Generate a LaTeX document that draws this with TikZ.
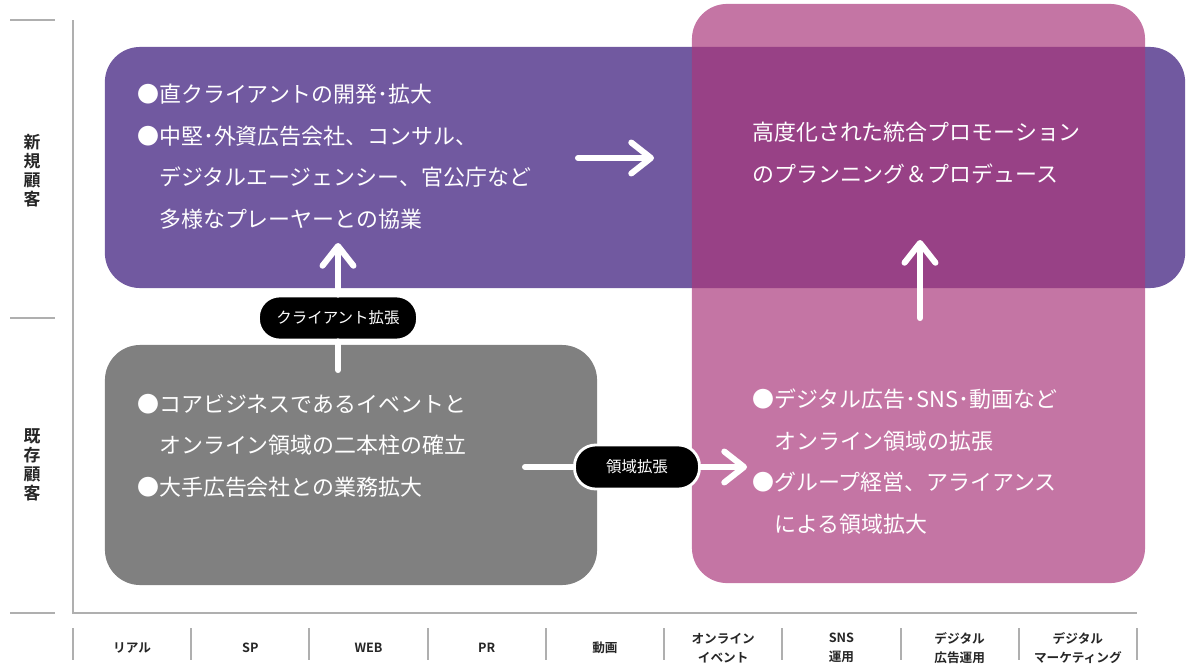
\documentclass[tikz,border=0pt]{standalone}
\usepackage{fontspec}
\setmainfont{Noto Sans CJK JP}[BoldFont={Noto Sans CJK JP Bold}]
\usetikzlibrary{arrows.meta}
\definecolor{PU}{RGB}{113,89,160}
\definecolor{PK}{RGB}{170,55,123}
\definecolor{GR}{RGB}{128,128,128}
\definecolor{AXC}{RGB}{175,175,175}
\tikzset{
    BX/.style ={rectangle,rounded corners=25pt,inner sep=0pt},
    TX/.style ={text=white,align=left,anchor=north west,inner sep=0pt,font=\fontsize{15.6}{29.5}\selectfont},
    PL/.style ={rectangle,rounded corners=15pt,fill=black,draw=white,line width=2pt,text=white,minimum height=1.1cm,font=\fontsize{11}{13}\selectfont},
    AR/.style ={white,line width=4.3pt,line cap=round},
    AH/.style ={-{Straight Barb[length=14pt,width=22pt,round]}},
    AX/.style ={draw=AXC,line width=1.4pt},
    LB/.style ={align=center,text=black!85,font=\bfseries\fontsize{9}{13.5}\selectfont}}

\begin{document}
\begin{tikzpicture}[x=0.025cm,y=-0.025cm]
    \useasboundingbox (0,0) rectangle (1193,666);
    % axes
    \draw[AX] (73,20) -- (73,613) -- (1137,613);
    \foreach \y in {20,318,613} \draw[AX] (10,\y) -- (55,\y);
    \foreach \i in {0,...,9} \draw[AX] (73+118.22*\i,628) -- (73+118.22*\i,660);
    \foreach \t [count=\i] in {リアル,SP,WEB,PR,動画,オンライン\\イベント,SNS\\運用,デジタル\\広告運用,デジタル\\マーケティング}
        \node[LB] at (73+118.22*\i-59.11,648) {\t};
    \node(10)[LB,font=\bfseries\fontsize{12}{13.5}\selectfont] at (32,171) {新\\規\\顧\\客};
    \node(11)[LB,font=\bfseries\fontsize{12}{13.5}\selectfont] at (32,465) {既\\存\\顧\\客};
    % boxes
    \node(1)[BX,fill=PU,minimum width=27cm,minimum height=6.025cm] at (645,167.5) {};
    \node(2)[BX,fill=PK,fill opacity=.69,minimum width=11.325cm,minimum height=14.475cm] at (918.5,293.5) {};
    \node(3)[BX,fill=GR,minimum width=12.3cm,minimum height=6cm] at (351,465) {};
    % texts
    \node(4)[TX] at (137,84) {●直クライアントの開発･拡大\\●中堅･外資広告会社、コンサル、\\\hphantom{●}デジタルエージェンシー、官公庁など\\\hphantom{●}多様なプレーヤーとの協業};
    \node(5)[TX] at (752,122) {高度化された統合プロモーション\\のプランニング＆プロデュース};
    \node(6)[TX] at (137,394) {●コアビジネスであるイベントと\\\hphantom{●}オンライン領域の二本柱の確立\\●大手広告会社との業務拡大};
    \node(7)[TX] at (752,389) {●デジタル広告･SNS･動画など\\\hphantom{●}オンライン領域の拡張\\●グループ経営、アライアンス\\\hphantom{●}による領域拡大};
    % arrows
    \coordinate(a) at (578,158);
    \coordinate(b) at (654,158);
    \coordinate(c) at (920,318);
    \coordinate(d) at (920,240);
    \coordinate(e) at (338,370);
    \coordinate(f) at (338,243);
    \coordinate(g) at (525,467);
    \coordinate(h) at (747,467);
    \draw[AR,AH] (a) -- (b);
    \draw[AR,AH] (c) -- (d);
    \node(8)[PL,minimum width=3.975cm] at (338,318) {クライアント拡張};
    \node(9)[PL,minimum width=3.125cm] at (637,467) {領域拡張};
    \draw[AR] (e) -- (8);
    \draw[AR,AH] (8) -- (f);
    \draw[AR] (g) -- (9);
    \draw[AR,AH] (9) -- (h);
\end{tikzpicture}
\end{document}
